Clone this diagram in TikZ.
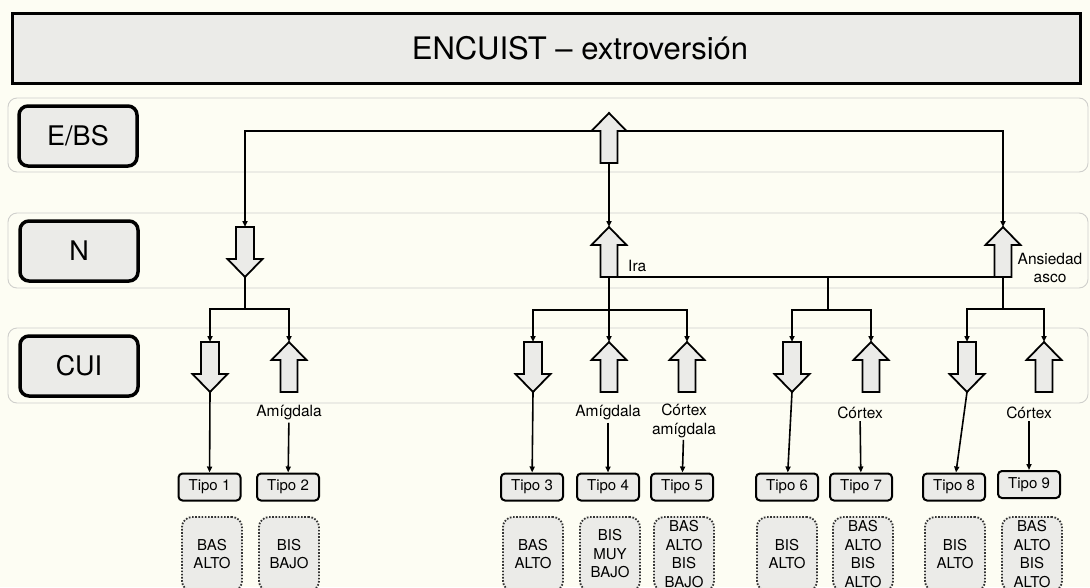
\documentclass[tikz,border=0pt]{standalone}
\usepackage{fontspec}
\setmainfont{TeX Gyre Heros}
\usetikzlibrary{arrows.meta}
\definecolor{crema}{HTML}{FDFDF3}
\definecolor{gris}{HTML}{EBEBE8}
\definecolor{borde}{HTML}{CFCFCC}

\begin{document}
\begin{tikzpicture}[x=1pt,y=-1pt,
        every node/.style={inner sep=2pt},
        linea/.style={line width=1.6pt},
        conn/.style={line width=1.6pt,-{Triangle[length=6pt,width=5pt]}},
        flecha/.style={draw,line width=1.8pt,fill=gris,line join=miter},
        band/.style={draw=borde,line width=0.9pt,fill=crema,rounded corners=9pt},
        titulo/.style={draw,line width=3pt,fill=gris,minimum width=1068pt,minimum height=70pt},
        nivel/.style={draw,line width=3.5pt,fill=gris,rounded corners=9pt,minimum width=118pt,minimum height=60pt,font=\fontsize{27}{30}\selectfont},
        tipo/.style={draw,line width=2pt,fill=gris,rounded corners=4pt,minimum width=62pt,minimum height=27pt,font=\fontsize{15}{18}\selectfont},
        res/.style={draw=black!80,line width=1.8pt,dash pattern=on 1.6pt off 1.6pt,fill=gris,rounded corners=10pt,minimum width=60pt,minimum height=74pt,align=center,font=\fontsize{15}{18.5}\selectfont},
        etiq/.style={align=center,font=\fontsize{15.5}{18.5}\selectfont},
        arrup/.pic={
            \draw[flecha] (-8.5,0) -- (-8.5,-32) -- (-17.5,-32) -- (0,-50) -- (17.5,-32) -- (8.5,-32) -- (8.5,0) -- cycle;
            \coordinate (-tail) at (0,0);
            \coordinate (-tip) at (0,-50);
            \coordinate (-l) at (-17.5,-32);
            \coordinate (-r) at (17.5,-32);
        },
        arrdown/.pic={
            \draw[flecha] (-9,0) -- (-9,32) -- (-17.5,32) -- (0,50) -- (17.5,32) -- (9,32) -- (9,0) -- cycle;
            \coordinate (-top) at (0,0);
            \coordinate (-tip) at (0,50);
        }]

    \useasboundingbox (0,0) rectangle (1090,587);
    \clip (0,0) rectangle (1090,587);
    \fill[crema] (0,0) rectangle (1090,587);

    \draw[band] (8,98) rectangle (1088,172);
    \draw[band] (8,213) rectangle (1088,288);
    \draw[band] (8,328) rectangle (1088,403);

    \node[titulo] (tit) at (546.5,48.5) {};
    \node[font=\fontsize{31}{34}\selectfont] (tittxt) at (580,48) {ENCUIST – extroversión};

    \node[nivel] (ebs) at (78,136) {E/BS};
    \node[nivel] (n) at (79,251) {N};
    \node[nivel] (cui) at (79,366) {CUI};

    \pic (eb) at (609,163) {arrup};
    \pic (nl) at (245,227) {arrdown};
    \pic (nc) at (609,277) {arrup};
    \pic (nr) at (1003,277) {arrup};

    \pic (c1) at (210,342) {arrdown};
    \pic (c2) at (289,392) {arrup};
    \pic (c3) at (533,342) {arrdown};
    \pic (c4) at (609,392) {arrup};
    \pic (c5) at (687,392) {arrup};
    \pic (c6) at (792,342) {arrdown};
    \pic (c7) at (871,392) {arrup};
    \pic (c8) at (967,342) {arrdown};
    \pic (c9) at (1044,392) {arrup};

    \coordinate (s1) at (245,309);
    \coordinate (s2) at (609,310);
    \coordinate (j3) at (828,277);
    \coordinate (s3) at (828,310);
    \coordinate (s4) at (1003,309);

    \draw[conn] (eb-l) -| (nl-top);
    \draw[conn] (eb-r) -| (nr-tip);
    \draw[conn] (eb-tail) -- (nc-tip);

    \draw[linea] (nl-tip) -- (s1);
    \draw[conn] (s1) -| (c1-top);
    \draw[conn] (s1) -| (c2-tip);

    \draw[linea] (nc-tail) -- (nr-tail);
    \draw[linea] (nc-tail) -- (s2);
    \draw[conn] (s2) -| (c3-top);
    \draw[conn] (s2) -- (c4-tip);
    \draw[conn] (s2) -| (c5-tip);

    \draw[linea] (j3) -- (s3);
    \draw[conn] (s3) -| (c6-top);
    \draw[conn] (s3) -| (c7-tip);

    \draw[linea] (nr-tail) -- (s4);
    \draw[conn] (s4) -| (c8-top);
    \draw[conn] (s4) -| (c9-tip);

    \node[etiq,anchor=west] (ira) at (626,266) {Ira};
    \node[etiq] (ans) at (1050,268) {Ansiedad\\asco};
    \node[etiq] (l2) at (289,413) {Amígdala};
    \node[etiq] (l4) at (608,413) {Amígdala};
    \node[etiq] (l5) at (684,421) {Córtex\\amígdala};
    \node[etiq] (l7) at (860,413) {Córtex};
    \node[etiq] (l9) at (1029,413) {Córtex};

    \node[tipo] (t1) at (209.5,487) {Tipo 1};
    \node[tipo] (t2) at (288,487) {Tipo 2};
    \node[tipo] (t3) at (532,487) {Tipo 3};
    \node[tipo] (t4) at (608,487) {Tipo 4};
    \node[tipo] (t5) at (682,487) {Tipo 5};
    \node[tipo] (t6) at (787,487) {Tipo 6};
    \node[tipo] (t7) at (861,487) {Tipo 7};
    \node[tipo] (t8) at (954,487) {Tipo 8};
    \node[tipo] (t9) at (1029,484.5) {Tipo 9};

    \draw[conn] (c1-tip) -- (t1);
    \draw[conn] (l2) -- (t2);
    \draw[conn] (c3-tip) -- (t3);
    \draw[conn] (l4) -- (t4);
    \draw[conn] (l5) -- (t5);
    \draw[conn] (c6-tip) -- (t6);
    \draw[conn] (l7) -- (t7);
    \draw[conn] (c8-tip) -- (t8);
    \draw[conn] (l9) -- (t9);

    \node[res] (r1) at (212,554) {BAS\\ALTO};
    \node[res] (r2) at (289,554) {BIS\\BAJO};
    \node[res] (r3) at (533,554) {BAS\\ALTO};
    \node[res] (r4) at (610,554) {BIS\\MUY\\BAJO};
    \node[res] (r5) at (684,554) {BAS\\ALTO\\BIS\\BAJO};
    \node[res] (r6) at (787,554) {BIS\\ALTO};
    \node[res] (r7) at (863,554) {BAS\\ALTO\\BIS\\ALTO};
    \node[res] (r8) at (955,554) {BIS\\ALTO};
    \node[res] (r9) at (1032,554) {BAS\\ALTO\\BIS\\ALTO};
\end{tikzpicture}
\end{document}
